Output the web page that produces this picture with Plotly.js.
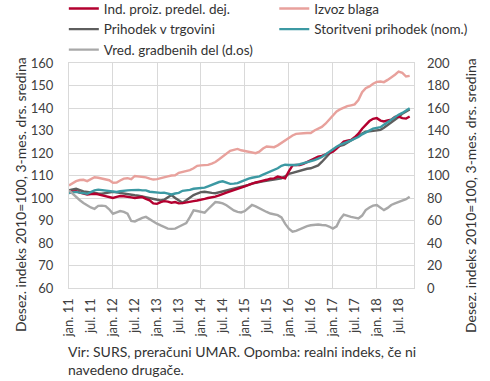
<!DOCTYPE html>
<html>
<head>
<meta charset="utf-8">
<script src="https://cdn.plot.ly/plotly-3.0.1.min.js"></script>
<style>html,body{margin:0;padding:0;background:#fff;}#chart{width:490px;height:381px;}</style>
</head>
<body>
<div id="chart"></div>
<script>
// monthly data, jan 2011 .. oct 2018
var startYear = 2011, nMonths = 94;
var indProiz = [102.7,102.9,103,102.4,101.8,101.5,101.8,101.9,101.6,101.2,100.9,100.4,
  100,100.5,100.9,100.8,100.7,100.3,100,100.2,100.4,99.6,99,97.6,
  97.4,98.2,98.6,98.4,97.9,98.2,97.6,97.7,97.9,98.3,98.6,98.9,
  99.1,99.6,100,100.2,100.6,101.2,101.9,102.4,102.9,103.4,104,104.4,
  105.2,105.8,106.4,106.9,107.3,107.6,108.1,108.6,108.7,109.5,109.2,108.7,
  111.8,114.5,114.7,114.6,115.2,116,116.9,117.6,118.4,118.7,119.4,120,
  120.6,122,123.6,125.1,125.5,125.8,127,128.6,130.8,132.5,134.2,135.2,
  135.5,134.4,134,134.5,134.8,136,136.2,135.5,135.3,136.2];
var izvozBlaga = [105.6,106.5,107.5,108,108.1,107.5,108.2,109.2,109,108.6,108.3,107.9,
  106.8,106.9,107.8,108.6,108.8,108.4,109.8,109.7,109.6,109.2,108.6,108.2,
  108.4,108.7,109.3,109.6,110,110.1,111.2,111.6,112.2,112.4,113.2,114.3,
  114.5,114.6,114.7,115.3,116,117.2,118.5,120,121,121.4,121.8,121.2,
  120.8,120.4,120.1,119.9,120.6,122,122.9,122.7,122.6,123.4,124.5,125.8,
  127,127.8,128.5,128.8,128.8,128.9,128.9,130,130.8,131.6,133,134.7,
  136.5,138.5,139.4,140.2,140.8,141.2,141.6,143.5,147,148.8,149.6,150.8,
  151.6,151.8,151.5,152.5,153.5,154.8,156.2,155.6,154,154.3];
var prihodekTrg = [103.4,103.8,104.1,103.5,102.9,102.7,102.4,102.2,102,101.9,102.1,102.4,
  102.7,102.5,102.2,101.9,101.9,101.5,101.2,101,100.7,100.4,99.8,99.6,
  99.3,98.9,99.2,100.2,101.3,100,98.9,97.9,99,100.3,101.3,102,
  102.6,102.8,102.7,102.3,102.1,102.5,102.8,103.2,103.5,103.9,104.4,104.8,
  105.2,105.8,106.4,106.9,107.1,107.4,107.7,108,108.1,108.3,108.7,109.6,
  110.7,111.2,111.7,112.1,112.6,113,113.2,113.7,114.5,116,117.7,119.6,
  121.4,122.4,123.2,123.6,124.5,125.6,126.4,127.6,128.7,129.5,129.6,129.8,
  130,130.3,131.2,132.4,133.3,134.6,136,137.5,138.5,139.3];
var storitveni = [102.2,102.5,102.7,102.4,102,101.9,102.6,103.4,103.7,103.5,103.2,103.1,
  102.8,102.7,103,103.3,103.4,103.5,103.7,103.6,103.4,103.4,102.8,102.6,
  102.2,102.3,102.4,102.1,101.6,102,102.3,103.2,103.3,103.6,104.1,104.2,
  104.4,104.6,105.2,105.9,106.4,107.1,107.4,106.8,106.3,106.4,106.6,107.3,
  108.1,108.6,109,109.3,109.6,110.4,111.1,111.8,112.4,113.2,114.3,114.8,
  114.7,114.6,114.7,115,115.4,115.9,116.2,116.8,117.5,118.2,119.3,120.5,
  121.6,122.8,123.6,124.2,125,125.6,126.4,127.1,128.3,129.2,130,130.8,
  131.2,131.5,132.6,133.8,135,136,137,137.8,138.8,139.9];
// right axis
var gradbena = [86.8,83.6,80.8,78,75.6,73.4,71.6,70.4,73,73.2,72.8,70,
  66,67.2,68.4,67.6,66,59.6,59.2,60.8,62.4,63.2,61,59.2,
  57.2,55.6,54.2,52.8,52.6,52.8,54.4,56,57.6,63,69,68.4,
  67.6,67,70,73.6,76.4,76,75.2,73.6,71,69,67.6,67.2,
  68.4,71.2,73.8,72.6,70.8,69.2,67.6,66.2,65.4,64.8,62.8,57.2,
  52.8,50,50.8,52.4,53.8,55,55.8,56.2,56.4,56,55.8,54.6,
  52.8,54.8,61,65.2,64,63.2,62.6,61.8,64.4,69.2,71.6,73.2,
  73.8,71.6,69.2,71.2,73.8,75.2,76.4,77.2,79,81.2];
var tickLabels = ['jan. 11','jul. 11','jan. 12','jul. 12','jan. 13','jul. 13','jan. 14','jul. 14',
  'jan. 15','jul. 15','jan. 16','jul. 16','jan. 17','jul. 17','jan. 18','jul. 18'];
var names = ['Ind. proiz. predel. dej.','Izvoz blaga','Prihodek v trgovini','Storitveni prihodek (nom.)','Vred. gradbenih del (d.os)'];
var axisTitle = 'Desez. indeks 2010=100, 3-mes. drs. sredina';
var note = 'Vir: SURS, preračuni UMAR. Opomba: realni indeks, če ni<br>navedeno drugače.';

function pad(n){return (n<10?'0':'')+n;}
var months = [];
for (var i=0;i<nMonths;i++){ months.push((startYear+Math.floor(i/12))+'-'+pad(i%12+1)+'-01'); }
var tickVals = [];
for (var k=0;k<tickLabels.length;k++){ tickVals.push(months[k*6]); }

var FONT = 'Lato, "Liberation Sans", sans-serif';
var W = 2.4;
var traces = [
  {x:months, y:gradbena, name:names[4], yaxis:'y2', mode:'lines', line:{color:'#a8a8a8', width:W}, legend:'legend', legendrank:3},
  {x:months, y:izvozBlaga, name:names[1], mode:'lines', line:{color:'#e8a19c', width:W}, legend:'legend2', legendrank:1},
  {x:months, y:prihodekTrg, name:names[2], mode:'lines', line:{color:'#5e5e5e', width:W}, legend:'legend', legendrank:2},
  {x:months, y:indProiz, name:names[0], mode:'lines', line:{color:'#b3002f', width:W}, legend:'legend', legendrank:1},
  {x:months, y:storitveni, name:names[3], mode:'lines', line:{color:'#3c99a3', width:W}, legend:'legend2', legendrank:2},
  {x:[], y:[], xaxis:'x2', showlegend:false, hoverinfo:'skip', mode:'lines'}
];
var range = ['2011-01-01','2018-11-06'];
var grid = '#d9d9d9';
var legFont = {size:13.5, color:'#333'};
var layout = {
  width:490, height:381,
  margin:{l:69, r:76, t:63, b:93, autoexpand:false},
  paper_bgcolor:'#fff', plot_bgcolor:'#fff',
  font:{family:FONT, size:13, color:'#404040'},
  showlegend:true,
  legend:{x:-0.015, y:1.31, xanchor:'left', yanchor:'top', bgcolor:'rgba(0,0,0,0)', font:legFont, itemwidth:30, tracegroupgap:0},
  legend2:{x:0.595, y:1.31, xanchor:'left', yanchor:'top', bgcolor:'rgba(0,0,0,0)', font:legFont, itemwidth:30, tracegroupgap:0},
  xaxis:{type:'date', range:range, tickvals:tickVals, ticktext:tickLabels, tickangle:-90,
    showgrid:false, zeroline:false, showline:true, mirror:true, linecolor:grid, linewidth:1,
    ticks:'', tickfont:{size:13}, ticklabelstandoff:4},
  xaxis2:{type:'date', range:range, overlaying:'x', tick0:'2011-01-01', dtick:'M12', showgrid:true, gridcolor:grid, gridwidth:1,
    showticklabels:false, ticks:'', zeroline:false, showline:false},
  yaxis:{range:[60,160], dtick:10, showgrid:true, gridcolor:grid, gridwidth:1, zeroline:false,
    showline:true, mirror:true, linecolor:grid, ticks:'', tickfont:{size:13}, ticklabelstandoff:12},
  yaxis2:{range:[0,200], dtick:20, overlaying:'y', side:'right', showgrid:false, zeroline:false,
    showline:false, ticks:'', tickfont:{size:13}, ticklabelstandoff:12},
  annotations:[
    {text:axisTitle, xref:'paper', yref:'paper', x:-0.142, y:0.413, textangle:-90,
     showarrow:false, xanchor:'center', yanchor:'middle', font:{size:14, color:'#333'}},
    {text:axisTitle, xref:'paper', yref:'paper', x:1.162, y:0.413, textangle:-90,
     showarrow:false, xanchor:'center', yanchor:'middle', font:{size:14, color:'#333'}},
    {text:note, xref:'paper', yref:'paper',
     x:-0.01, y:-0.235, xanchor:'left', yanchor:'top', align:'left', showarrow:false, font:{size:14, color:'#333'}}
  ]
};
Plotly.newPlot('chart', traces, layout, {displayModeBar:false, staticPlot:true});
</script>
</body>
</html>
